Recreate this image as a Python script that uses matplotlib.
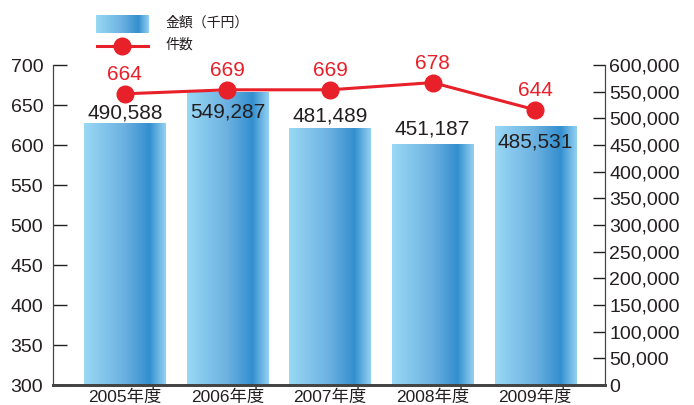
import numpy as np
import matplotlib.pyplot as plt
from matplotlib.colors import LinearSegmentedColormap
from matplotlib.lines import Line2D

plt.rcParams['font.family'] = ['Liberation Sans', 'Noto Sans CJK JP', 'DejaVu Sans']

years = ['2005年度', '2006年度', '2007年度', '2008年度', '2009年度']
amount = [490588, 549287, 481489, 451187, 485531]   # 金額（千円）
count = [664, 669, 669, 678, 644]                   # 件数

left_ticks = [300, 350, 400, 450, 500, 550, 600, 650, 700]
right_ticks = [0, 50000, 100000, 150000, 200000, 250000, 300000,
               350000, 400000, 450000, 500000, 550000, 600000]

# label nudges (px, + = up) to mimic the original layout
label_dy = [10, -20, 12, 15, -16]

txt = '#231f20'
red = '#e8202a'
grad = LinearSegmentedColormap.from_list('bar', [
    (0.0, (0.60, 0.85, 0.96)),
    (0.5, (0.42, 0.69, 0.88)),
    (0.8, (0.20, 0.56, 0.81)),
    (1.0, (0.58, 0.82, 0.95)),
])
g = np.linspace(0, 1, 256).reshape(1, -1)

fig = plt.figure(figsize=(6.94, 4.05), dpi=100)
ax = fig.add_axes([53/694, 20/405, 552/694, 320/405])
ax2 = ax.twinx()
ax.set_zorder(ax2.get_zorder() + 1)
ax.patch.set_visible(False)

x = np.arange(len(years))
w = 0.79
for i, v in enumerate(amount):
    ax2.imshow(g, cmap=grad, aspect='auto', extent=[x[i]-w/2, x[i]+w/2, 0, v],
               interpolation='bilinear', zorder=1)
    ax2.annotate(f'{v:,}', (x[i], v), xytext=(0, label_dy[i]*0.72),
                 textcoords='offset points', ha='center', va='center',
                 fontsize=15, color=txt, zorder=3)

ax2.set_ylim(0, 600000)
ax2.set_yticks(right_ticks)
ax2.set_yticklabels([f'{t:,}' for t in right_ticks])

ax.plot(x, count, color=red, lw=2.2, marker='o', ms=12, zorder=4)
for i, c in enumerate(count):
    ax.annotate(str(c), (x[i], c), xytext=(0, 14), textcoords='offset points',
                ha='center', va='center', fontsize=15, color=red)
ax.set_ylim(300, 700)
ax.set_yticks(left_ticks)
ax.set_xlim(-0.7, 4.68)
ax2.set_xlim(-0.7, 4.68)
ax.set_xticks(x)
ax.set_xticklabels(years)

ax.tick_params(axis='y', direction='in', length=10, width=1, colors=txt,
               labelsize=14, pad=7)
ax.tick_params(axis='x', length=0, labelsize=12.5, colors=txt, pad=3)
ax2.tick_params(axis='y', direction='in', length=9, width=1, colors=txt,
                labelsize=14, pad=3)
for a in (ax, ax2):
    a.spines['top'].set_visible(False)
    a.spines['left'].set_color('#444444')
    a.spines['right'].set_color('#444444')
    a.spines['bottom'].set_color('#444444')
    a.spines['bottom'].set_linewidth(2)

# legend
lg = fig.add_axes([96/694, 1 - 33/405, 52/694, 18/405])
lg.imshow(g, cmap=grad, aspect='auto', interpolation='bilinear')
lg.axis('off')
fig.lines.append(Line2D([97/694, 148/694], [1 - 46/405, 1 - 46/405],
                        color=red, lw=2.2, transform=fig.transFigure))
fig.lines.append(Line2D([122/694], [1 - 46/405], marker='o', ms=12, color=red,
                        transform=fig.transFigure))
fig.text(165/694, 1 - 23/405, '金額（千円）', fontsize=10, color=txt, va='center')
fig.text(165/694, 1 - 45/405, '件数', fontsize=10, color=txt, va='center')

fig.savefig('out.png', dpi=100)
